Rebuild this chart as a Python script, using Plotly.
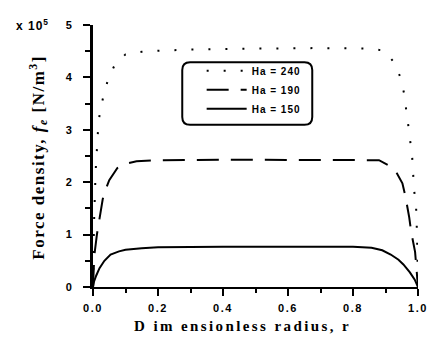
import plotly.graph_objects as go

# ---- data ----
r_240 = [0, 0.003, 0.008, 0.012, 0.016, 0.021, 0.033, 0.045, 0.066, 0.1, 0.15, 0.2, 0.3, 0.5, 0.7,
         0.85, 0.896, 0.926, 0.946, 0.957, 0.964, 0.97, 0.976, 0.982, 0.985, 0.988, 0.994, 0.997, 1.0]
f_240 = [0, 1.2, 2.2, 2.7, 3.05, 3.33, 3.67, 3.93, 4.23, 4.44, 4.49, 4.51, 4.53, 4.55, 4.56,
         4.55, 4.51, 4.29, 4.0, 3.7, 3.41, 3.09, 2.79, 2.49, 2.17, 1.85, 1.55, 1.0, 0]

r_190 = [0, 0.004, 0.012, 0.024, 0.03, 0.04, 0.05, 0.075, 0.1, 0.134, 0.2, 0.4, 0.6, 0.8, 0.88,
         0.916, 0.935, 0.952, 0.961, 0.973, 0.979, 0.991, 0.996, 1.0]
f_190 = [0, 0.6, 1.0, 1.42, 1.68, 1.88, 2.04, 2.27, 2.35, 2.4, 2.42, 2.43, 2.43, 2.43, 2.42,
         2.3, 2.17, 1.98, 1.74, 1.33, 1.05, 0.67, 0.3, 0]

r_150 = [0, 0.003, 0.01, 0.02, 0.035, 0.054, 0.08, 0.1, 0.15, 0.2, 0.4, 0.6, 0.8, 0.857, 0.89,
         0.916, 0.94, 0.955, 0.975, 0.99, 1.0]
f_150 = [0, 0.1, 0.22, 0.36, 0.5, 0.62, 0.68, 0.71, 0.74, 0.76, 0.77, 0.77, 0.77, 0.75, 0.7,
         0.62, 0.52, 0.43, 0.28, 0.14, 0]

series_names = ["Ha = 240", "Ha = 190", "Ha = 150"]
x_ticks = [0, 0.2, 0.4, 0.6, 0.8, 1.0]
x_ticktext = ["0.0", "0.2", "0.4", "0.6", "0.8", "1.0"]
y_ticks = [0, 1, 2, 3, 4, 5]
y_ticktext = ["0", "1", "2", "3", "4", "5"]

SANS = "Liberation Sans, Arial, sans-serif"
SERIF = "Liberation Serif, Times New Roman, serif"

def sp(t, ls=1):
    return f"<b><span style='letter-spacing:{ls}px'>{t}</span></b>"

fig = go.Figure()
fig.add_trace(go.Scatter(x=r_240, y=f_240, mode="lines", name=sp(series_names[0], 1),
                         line=dict(color="black", width=2, dash="2px,15px")))
fig.add_trace(go.Scatter(x=r_190, y=f_190, mode="lines", name=sp(series_names[1], 1),
                         line=dict(color="black", width=2, dash="22px,12px")))
fig.add_trace(go.Scatter(x=r_150, y=f_150, mode="lines", name=sp(series_names[2], 1),
                         line=dict(color="black", width=2)))

# the page adds an 8px body margin; compensate so the figure lands where the reference is
OFF = 8
W, H = 439 - OFF, 338 - OFF
L, R, T, B = 93 - OFF, 11, 19 - OFF, 51
pw, ph = W - L - R, H - T - B

def px(x):
    return (x - OFF - L) / pw

def py(y):
    return (H - B - (y - OFF)) / ph

fig.update_layout(
    width=W, height=H,
    margin=dict(l=L, r=R, t=T, b=B, pad=0),
    paper_bgcolor="white", plot_bgcolor="white",
    showlegend=True,
    legend=dict(x=px(205), y=py(51), xanchor="left", yanchor="top",
                bgcolor="rgba(0,0,0,0)", borderwidth=0,
                font=dict(family=SANS, size=10, color="black"),
                itemwidth=40, tracegroupgap=0),
    xaxis=dict(range=[0, 1], showgrid=False, zeroline=False,
               showline=True, linecolor="black", linewidth=2,
               ticks="outside", ticklen=7, tickwidth=2, tickcolor="black",
               tickmode="array", tickvals=x_ticks,
               ticktext=[sp(t, 1.5) for t in x_ticktext],
               tickfont=dict(family=SANS, size=11, color="black"),
               ticklabelstandoff=3,
               minor=dict(dtick=0.1, ticks="outside", ticklen=4, tickwidth=2, tickcolor="black",
                          showgrid=False)),
    yaxis=dict(range=[0, 5], showgrid=False, zeroline=False,
               showline=True, linecolor="black", linewidth=3,
               ticks="outside", ticklen=7, tickwidth=2, tickcolor="black",
               tickmode="array", tickvals=y_ticks,
               ticktext=[sp(t) for t in y_ticktext],
               tickfont=dict(family=SANS, size=11, color="black"),
               ticklabelstandoff=8,
               minor=dict(dtick=0.5, ticks="outside", ticklen=5, tickwidth=2, tickcolor="black",
                          showgrid=False)),
)

# rounded legend frame
x0, x1, y0, y1 = px(185), px(319), py(121), py(57)
rx, ry = 8 / pw, 8 / ph
path = (f"M{x0+rx},{y1} L{x1-rx},{y1} Q{x1},{y1} {x1},{y1-ry} L{x1},{y0+ry} "
        f"Q{x1},{y0} {x1-rx},{y0} L{x0+rx},{y0} Q{x0},{y0} {x0},{y0+ry} "
        f"L{x0},{y1-ry} Q{x0},{y1} {x0+rx},{y1} Z")
fig.add_shape(type="path", xref="paper", yref="paper", path=path,
              line=dict(color="black", width=2), layer="above")

# titles
fig.add_annotation(xref="paper", yref="paper", x=px(37), y=py(154), textangle=-90,
                   text="<b><span style='letter-spacing:1.5px'>Force density, <i>f<sub>e</sub></i> [N/m<sup>3</sup>]</span></b>",
                   showarrow=False, xanchor="center", yanchor="middle",
                   font=dict(family=SERIF, size=17, color="black"))
fig.add_annotation(xref="paper", yref="paper", x=px(247), y=py(327),
                   text="<b><span style='letter-spacing:2.4px'>D im ensionless radius, r</span></b>",
                   showarrow=False, xanchor="center", yanchor="middle",
                   font=dict(family=SERIF, size=15, color="black"))
fig.add_annotation(xref="paper", yref="paper", x=px(12), y=py(19),
                   text="<b><span style='letter-spacing:1px'>x 10<sup>5</sup></span></b>",
                   showarrow=False, xanchor="left", yanchor="middle",
                   font=dict(family=SANS, size=12, color="black"))

fig.write_html("out.html")
